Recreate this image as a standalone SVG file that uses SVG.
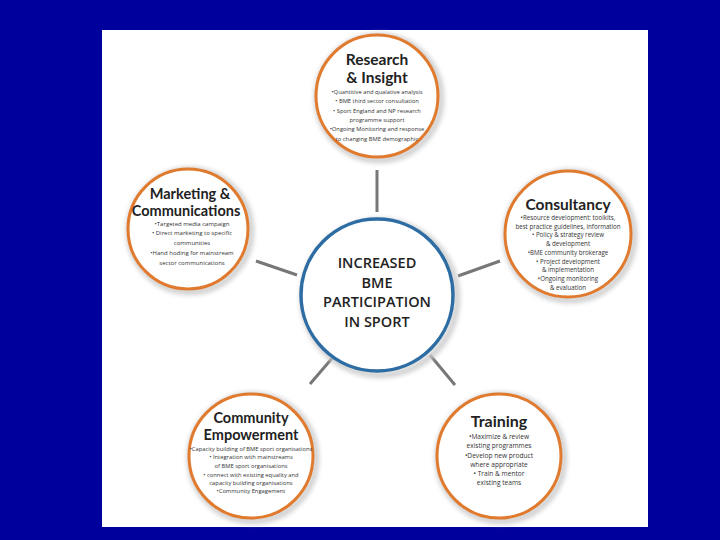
<svg xmlns="http://www.w3.org/2000/svg" width="720" height="540" viewBox="0 0 720 540">
<defs>
<style>
.shadow{fill:none;stroke:#c9c9c9;stroke-width:7;opacity:0.8}
.ring{fill:#fff;stroke:#e07a2e;stroke-width:3}
.cring{fill:#fff;stroke:#2e6da4;stroke-width:3.5}
.title{font-family:Lato,"Open Sans",sans-serif;font-weight:700;fill:#222;text-anchor:middle}
.b{font-family:"Open Sans","Liberation Sans",sans-serif;fill:#333;text-anchor:middle}
.ctr{font-family:"Open Sans","Liberation Sans",sans-serif;font-weight:600;fill:#222;text-anchor:middle;font-size:14.5px}
.conn{stroke:#777;stroke-width:3;fill:none}
</style>
<filter id="blur" x="-20%" y="-20%" width="140%" height="140%"><feGaussianBlur stdDeviation="2"/></filter>
</defs>
<rect x="0" y="0" width="720" height="540" fill="#00009c"/>
<rect x="102" y="30" width="546" height="497" fill="#fff"/>
<g id="connectors">
<line class="conn" x1="377" y1="170" x2="377" y2="212"/>
<line class="conn" x1="256" y1="261" x2="297" y2="275"/>
<line class="conn" x1="458" y1="276" x2="500" y2="261"/>
<line class="conn" x1="310" y1="384" x2="334" y2="356"/>
<line class="conn" x1="430" y1="355" x2="455" y2="385"/>
</g>
<g id="research">
<circle class="shadow" cx="379" cy="98" r="62" filter="url(#blur)"/>
<circle class="ring" cx="377" cy="96" r="61"/>
<text class="title" x="377" y="65" font-size="15.5">Research</text>
<text class="title" x="377" y="83" font-size="15.5">&amp; Insight</text>
<text class="b" font-size="5.8"><tspan x="377" y="94">•Quantitive and qualative analysis</tspan><tspan x="377" y="103">• BME third sector consultation</tspan><tspan x="377" y="113">• Sport England and NP research</tspan><tspan x="377" y="122">programme support</tspan><tspan x="377" y="131">•Ongoing Monitoring and response</tspan><tspan x="377" y="141">to changing BME demographic</tspan></text>
</g>
<g id="marketing">
<circle class="shadow" cx="190" cy="231" r="61" filter="url(#blur)"/>
<circle class="ring" cx="188" cy="229" r="60"/>
<text class="title" x="190" y="199" font-size="14.5">Marketing &amp;</text>
<text class="title" x="186" y="216" font-size="14.5">Communications</text>
<text class="b" font-size="6"><tspan x="192" y="226">•Targeted media campaign</tspan><tspan x="192" y="235">• Direct marketing to specific</tspan><tspan x="192" y="245">communities</tspan><tspan x="192" y="255">•Hand hoding for mainstream</tspan><tspan x="192" y="265">sector communications</tspan></text>
</g>
<g id="consultancy">
<circle class="shadow" cx="570" cy="236" r="64" filter="url(#blur)"/>
<circle class="ring" cx="568" cy="234" r="63"/>
<text class="title" x="568" y="210" font-size="15.5">Consultancy</text>
<text class="b" font-size="6.2"><tspan x="568" y="220">•Resource development: toolkits,</tspan><tspan x="568" y="228.7">best practice guidelines, information</tspan><tspan x="568" y="237.4">• Policy &amp; strategy review</tspan><tspan x="568" y="246.1">&amp; development</tspan><tspan x="568" y="254.8">•BME community brokerage</tspan><tspan x="568" y="263.5">• Project development</tspan><tspan x="568" y="272.2">&amp; implementation</tspan><tspan x="568" y="280.9">•Ongoing monitoring</tspan><tspan x="568" y="289.6">&amp; evaluation</tspan></text>
</g>
<g id="center">
<circle class="shadow" cx="380" cy="298" r="77" filter="url(#blur)"/>
<circle class="cring" cx="377" cy="295" r="76"/>
<text class="ctr"><tspan x="377" y="268">INCREASED</tspan><tspan x="377" y="288">BME</tspan><tspan x="377" y="307">PARTICIPATION</tspan><tspan x="377" y="327">IN SPORT</tspan></text>
</g>
<g id="community">
<circle class="shadow" cx="253" cy="458" r="63" filter="url(#blur)"/>
<circle class="ring" cx="251" cy="456" r="62"/>
<text class="title" x="251" y="423" font-size="14.5">Community</text>
<text class="title" x="251" y="440" font-size="14.5">Empowerment</text>
<text class="b" font-size="5.8"><tspan x="251" y="451">•Capacity building of BME sport organisations</tspan><tspan x="251" y="459">• Integration with mainstreams</tspan><tspan x="251" y="468">of BME sport organisations</tspan><tspan x="251" y="477">• connect with existing equality and</tspan><tspan x="251" y="485">capacity building organisations</tspan><tspan x="251" y="493">•Community Engagement</tspan></text>
</g>
<g id="training">
<circle class="shadow" cx="501" cy="458" r="63" filter="url(#blur)"/>
<circle class="ring" cx="499" cy="456" r="62"/>
<text class="title" x="499" y="427" font-size="16">Training</text>
<text class="b" font-size="6.6"><tspan x="499" y="439">•Maximize &amp; review</tspan><tspan x="499" y="448">existing programmes</tspan><tspan x="499" y="458">•Develop new product</tspan><tspan x="499" y="467">where appropriate</tspan><tspan x="499" y="476">• Train &amp; mentor</tspan><tspan x="499" y="485">existing teams</tspan></text>
</g>
</svg>
